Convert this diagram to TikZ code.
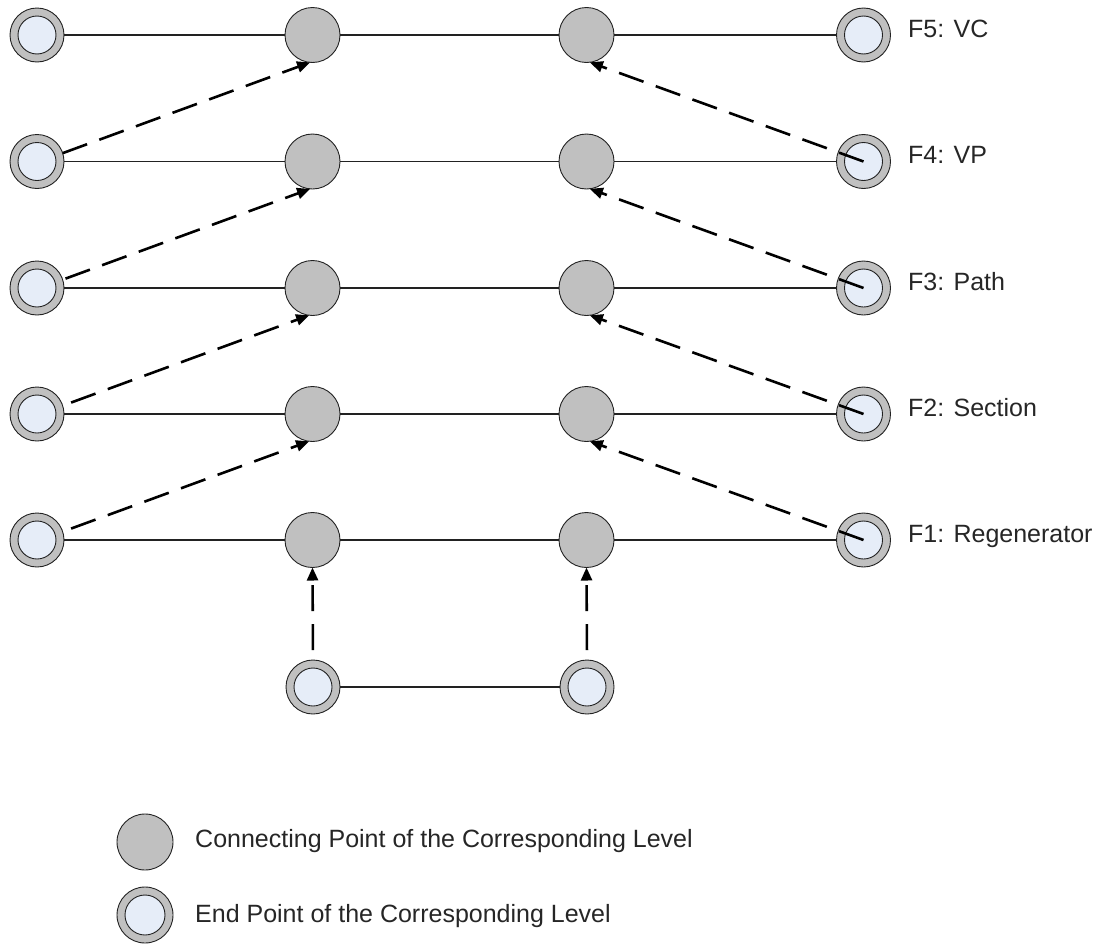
\documentclass[tikz,border=0pt]{standalone}
\usepackage{fontspec}
\setmainfont{Liberation Sans}
\usetikzlibrary{arrows.meta}
\definecolor{cgrey}{HTML}{C0C0C0}
\definecolor{epblue}{HTML}{E6EDF8}
\definecolor{edge}{HTML}{222222}
\begin{document}
\begin{tikzpicture}[x=1pt,y=-1pt,
  cpt/.style={circle, inner sep=0pt, outer sep=0pt, minimum size=55pt, fill=cgrey, draw=edge, line width=0.9pt},
  ept/.style={circle, inner sep=0pt, outer sep=0pt, minimum size=54pt, fill=cgrey, draw=edge, line width=0.9pt,
     path picture={\draw[fill=epblue, draw=edge, line width=0.9pt] (path picture bounding box.center) circle[radius=#1];}},
  ept/.default=19pt,
  link/.style={draw=edge, line width=1.3pt},
  dasharrow/.style={line width=2.6pt, dash pattern=on 26pt off 13pt, -{Triangle[length=13pt,width=11pt]}},
  lbl/.style={anchor=base west, inner sep=0pt, font=\fontsize{25}{30}\selectfont, text=black!85}
]
\useasboundingbox (0,0) rectangle (1098,945);

% level rows
\foreach \i/\y in {1/35,2/161.5,3/288,4/414,5/540}{
  \node[ept] (l\i) at (37,\y) {};
  \node[cpt] (a\i) at (312.5,\y) {};
  \node[cpt] (b\i) at (586.5,\y) {};
  \node[ept] (r\i) at (863.5,\y) {};
  \draw[link] (l\i) -- (a\i) -- (b\i) -- (r\i);
}

% bottom end points
\node[ept] (e1) at (313,687) {};
\node[ept] (e2) at (587,687) {};
\draw[link] (e1) -- (e2);

% labels
\node[lbl] (f5) at (908,37) {F5: VC};
\node[lbl] (f4) at (908,163.5) {F4: VP};
\node[lbl] (f3) at (908,290) {F3: Path};
\node[lbl] (f2) at (908,416) {F2: Section};
\node[lbl] (f1) at (908,542) {F1: Regenerator};

% left dashed arrows
\draw[dasharrow] (l2.18) -- (a1.-95);
\draw[dasharrow, shorten <=3pt] (l3.18) -- (a2.-95);
\draw[dasharrow, shorten <=9pt] (l4.18) -- (a3.-97);
\draw[dasharrow, shorten <=9pt] (l5.18) -- (a4.-97);

% right dashed arrows
\draw[dasharrow] (r2.center) -- (b1.-83);
\draw[dasharrow] (r3.center) -- (b2.-83);
\draw[dasharrow] (r4.center) -- (b3.-83);
\draw[dasharrow] (r5.center) -- (b4.-83);

% vertical dashed arrows
\draw[dasharrow, dash phase=29pt] (e1.north) -- (a5.south);
\draw[dasharrow, dash phase=29pt] (e2.north) -- (b5.south);

% legend
\node[cpt, minimum size=56pt] (k1) at (145,842) {};
\node[lbl] (k1t) at (195,847) {Connecting Point of the Corresponding Level};
\node[ept=20pt, minimum size=56pt] (k2) at (145,915) {};
\node[lbl] (k2t) at (195,922) {End Point of the Corresponding Level};
\end{tikzpicture}
\end{document}
